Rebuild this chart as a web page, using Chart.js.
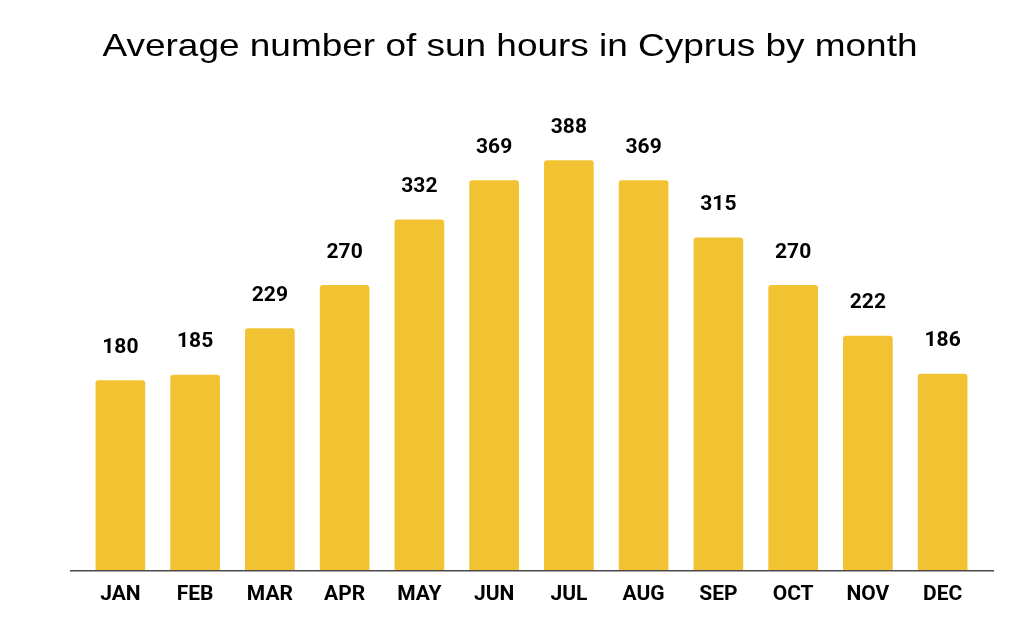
<!DOCTYPE html>
<html>
<head>
<meta charset="utf-8">
<script src="https://cdn.jsdelivr.net/npm/chart.js@4"></script>
<style>
  html, body { margin: 0; padding: 0; background: #fff; }
  #wrap { width: 1024px; height: 634px; position: relative; }
</style>
</head>
<body>
<div id="wrap"><canvas id="sunChart"></canvas></div>
<script>
const titleText = 'Average number of sun hours in Cyprus by month';
const months = ['JAN', 'FEB', 'MAR', 'APR', 'MAY', 'JUN', 'JUL', 'AUG', 'SEP', 'OCT', 'NOV', 'DEC'];
const sunHours = [180, 185, 229, 270, 332, 369, 388, 369, 315, 270, 222, 186];

/**
 * 棒グラフ
 *
 * @param {string} canvasId 描画先
 */
function sunBarChart(canvasId) {
  const canvas = document.getElementById(canvasId);
  const extras = {
    //タイトル(元画像は横に少し広い)
    beforeDraw(chart) {
      const ctx = chart.ctx;
      ctx.save();
      ctx.fillStyle = '#000';
      ctx.font = '32px "Liberation Sans", Arial, sans-serif';
      ctx.textAlign = 'center';
      ctx.textBaseline = 'alphabetic';
      ctx.translate(510, 56);
      ctx.scale(1.155, 1);
      ctx.fillText(titleText, 0, 0);
      ctx.restore();
    },
    afterDatasetsDraw(chart) {
      const ctx = chart.ctx;
      const bottom = chart.chartArea.bottom;
      ctx.save();
      // 軸の線はプロット領域より少し長い
      ctx.strokeStyle = '#4a4a4a';
      ctx.lineWidth = 1.5;
      ctx.beginPath();
      ctx.moveTo(70, bottom);
      ctx.lineTo(994, bottom);
      ctx.stroke();

      //棒の頭にラベル
      ctx.fillStyle = '#000';
      ctx.font = 'bold 21px Roboto, sans-serif';
      ctx.textAlign = 'center';
      ctx.textBaseline = 'middle';
      const meta = chart.getDatasetMeta(0);
      meta.data.forEach(function (element, index) {
        ctx.fillText(String(sunHours[index]), element.x, element.y - 33);
      });
      ctx.restore();
    },
  };
  return new Chart(canvas, {
    type: 'bar',
    data: {
      labels: months,
      datasets: [
        {
          data: sunHours,
          backgroundColor: '#F1C232',
          barThickness: 49,
          borderRadius: { topLeft: 3, topRight: 3, bottomLeft: 0, bottomRight: 0 },
          borderSkipped: 'bottom',
        },
      ],
    },
    options: {
      responsive: true,
      maintainAspectRatio: false,
      animation: false,
      devicePixelRatio: 1,
      layout: {
        padding: { top: 95, left: 83, right: 44, bottom: 16 },
      },
      scales: {
        x: {
          grid: { display: false, drawTicks: false },
          border: { display: false },
          ticks: {
            color: '#000',
            padding: 11,
            font: { family: 'Roboto', size: 21, weight: 'bold' },
          },
        },
        y: {
          display: false,
          min: 0,
          max: 450,
        },
      },
      plugins: {
        legend: { display: false },
        title: { display: false },
        tooltip: { enabled: false },
      },
    },
    plugins: [extras],
  });
}

sunBarChart('sunChart');
</script>
</body>
</html>
